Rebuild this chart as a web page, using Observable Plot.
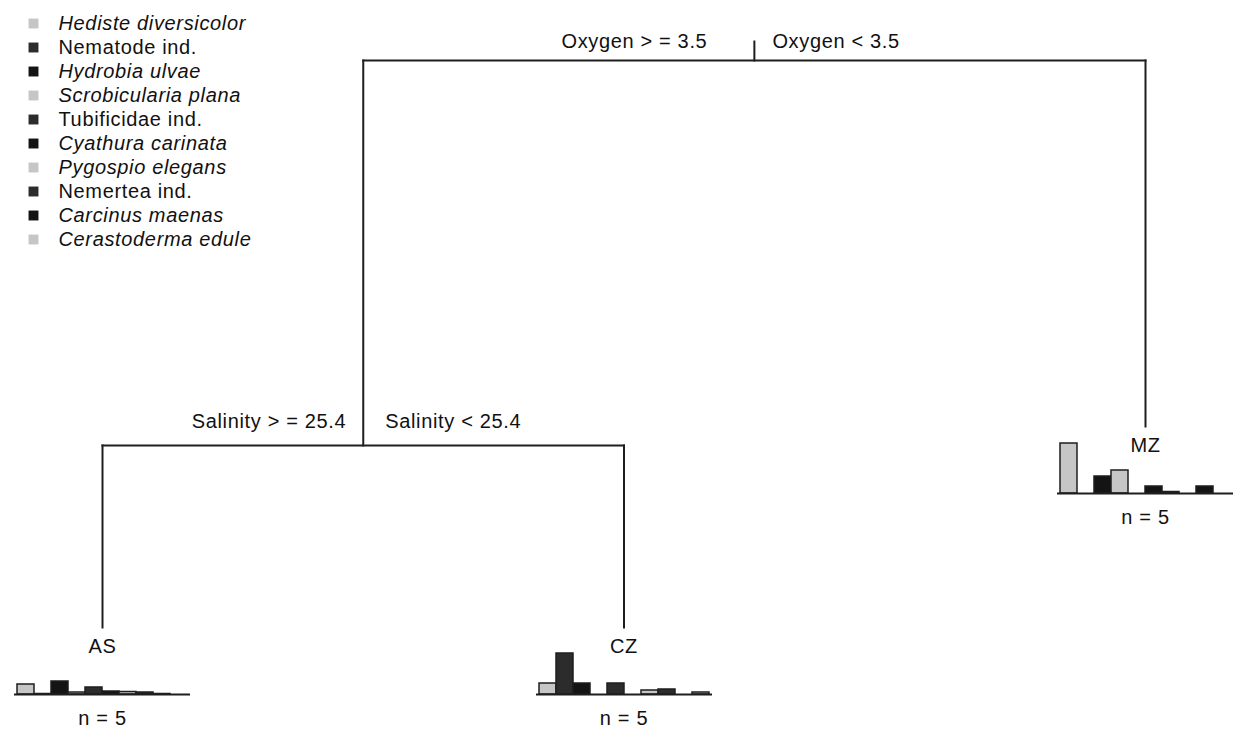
<!DOCTYPE html>
<html><head><meta charset="utf-8">
<script src="https://cdn.jsdelivr.net/npm/d3@7"></script>
<script src="https://cdn.jsdelivr.net/npm/@observablehq/plot@0.6"></script>
<style>
html,body{margin:0;padding:0;background:#fff;}
#chart{position:relative;width:1233px;height:730px;overflow:hidden;background:#fff;}
#chart svg{position:absolute;overflow:visible;}
#chart svg text{letter-spacing:0.65px;}
</style></head><body><div id="chart"></div>
<script>
// ---- data ----
const species = ["Hediste diversicolor","Nematode ind.","Hydrobia ulvae","Scrobicularia plana","Tubificidae ind.","Cyathura carinata","Pygospio elegans","Nemertea ind.","Carcinus maenas","Cerastoderma edule"];
const speciesItalic = [true,false,true,true,false,true,true,false,true,true];
const leaves = ["AS","CZ","MZ"];
const leafN = [5,5,5];
const leafDeviance = [0, 0, 0.3545];
const abundanceAS = [10, 0.5, 13, 2, 7, 3, 2.5, 2, 0.5, 0];
const abundanceCZ = [11, 41, 11, 0, 11, 0, 4, 5, 0, 2];
const abundanceMZ = [50, 0, 17, 23, 0, 7, 1.5, 0, 7, 0];
const splitVars = ["Oxygen","Salinity"];
const splitCuts = [3.5, 25.4];
const splitDeviance = [1, 0.321];
const rootStub = 1.0335;

// ---- tree structure (rpart style layout) ----
const abundances = [abundanceAS, abundanceCZ, abundanceMZ];
const leafNodes = leaves.map((name,i)=>({name, n:leafN[i], x:i+1, dev:leafDeviance[i]}));
const salNode = {split:1, children:[leafNodes[0], leafNodes[1]]};
const rootNode = {split:0, children:[salNode, leafNodes[2]]};
function layout(node){
  if(!node.children) return node.x;
  node.x = d3.mean(node.children.map(layout));
  node.dev = splitDeviance[node.split];
  node.left = `${splitVars[node.split]} > = ${splitCuts[node.split]}`;
  node.right = `${splitVars[node.split]} < ${splitCuts[node.split]}`;
  return node.x;
}
layout(rootNode);
const splits = [rootNode, salNode];
const segs = [{x1:rootNode.x, y1:rootStub, x2:rootNode.x, y2:rootNode.dev}];
for (const s of splits){
  const [a,b] = s.children;
  segs.push({x1:a.x, y1:s.dev, x2:b.x, y2:s.dev});
  for (const c of s.children) segs.push({x1:c.x, y1:s.dev, x2:c.x, y2:c.dev});
}

const palette = ["#c6c6c6","#2c2c2c","#141414"];
const colorRange = species.map((_,j)=>palette[j%3]);
const font = "'Liberation Sans', Arial, Helvetica, sans-serif";
const ink = "#111";
const lineCol = "#1e1e1e";

// label offsets (style)
const leftDx = [-47, -17], rightDx = [18, 22], labelDy = [-18.5, -24];

const root = document.getElementById("chart");

const tree = Plot.plot({
  width:1233, height:730, margin:0,
  x:{domain:[1,3], range:[102,1145], axis:null},
  y:{domain:[0,1], range:[627,60], axis:null},
  style:{fontFamily:font, fontSize:"20px", color:ink, background:"transparent"},
  marks:[
    Plot.link(segs, {x1:"x1", y1:"y1", x2:"x2", y2:"y2", stroke:lineCol, strokeWidth:2, strokeLinecap:"square"}),
    ...splits.flatMap((s,i)=>[
      Plot.text([s], {x:"x", y:"dev", text:"left", textAnchor:"end", lineAnchor:"middle", dx:leftDx[i], dy:labelDy[i], fill:ink}),
      Plot.text([s], {x:"x", y:"dev", text:"right", textAnchor:"start", lineAnchor:"middle", dx:rightDx[i], dy:labelDy[i], fill:ink})
    ]),
    Plot.text(leafNodes, {x:"x", y:"dev", text:"name", lineAnchor:"middle", dy:19, fill:ink}),
    Plot.text(leafNodes, {x:"x", y:"dev", text:d=>`n = ${d.n}`, lineAnchor:"middle", dy:91, fill:ink})
  ]
});
tree.style.left="0px"; tree.style.top="0px";
root.appendChild(tree);

const xs = tree.scale("x"), ys = tree.scale("y");
const barW = 176, barH = 55, m = 2;
leafNodes.forEach((leaf,i)=>{
  const rows = species.map((sp,j)=>({species:sp, value:abundances[i][j]}));
  const bp = Plot.plot({
    width:barW+2*m, height:barH+2*m, marginTop:m, marginBottom:m, marginLeft:m, marginRight:m,
    x:{type:"band", domain:species, padding:0, axis:null},
    y:{domain:[0,barH], axis:null},
    color:{domain:species, range:colorRange},
    style:{background:"transparent"},
    marks:[
      Plot.barY(rows, {x:"species", y:"value", fill:"species", stroke:lineCol, strokeWidth:1.5, inset:0}),
      Plot.ruleY([0], {stroke:lineCol, strokeWidth:2})
    ]
  });
  const cx = xs.apply(leaf.x), base = ys.apply(leaf.dev) + 67;
  bp.style.left = (cx - barW/2 - m) + "px";
  bp.style.top = (base - barH - m) + "px";
  root.appendChild(bp);
});

const legend = Plot.plot({
  width:280, height:260, margin:0,
  x:{domain:[0,1], range:[33,58], axis:null},
  y:{type:"point", domain:species, range:[22,240], padding:0, axis:null},
  color:{domain:species, range:colorRange},
  style:{fontFamily:font, fontSize:"20px", color:ink, background:"transparent"},
  marks:[
    Plot.dot(species, {x:()=>0, y:d=>d, fill:d=>d, symbol:"square", r:5.6}),
    Plot.text(species.filter((s,i)=>speciesItalic[i]), {x:()=>1, y:d=>d, text:d=>d, textAnchor:"start", lineAnchor:"middle", fontStyle:"italic", fill:ink}),
    Plot.text(species.filter((s,i)=>!speciesItalic[i]), {x:()=>1, y:d=>d, text:d=>d, textAnchor:"start", lineAnchor:"middle", fill:ink})
  ]
});
legend.style.left="0px"; legend.style.top="0px";
root.appendChild(legend);
</script></body></html>
